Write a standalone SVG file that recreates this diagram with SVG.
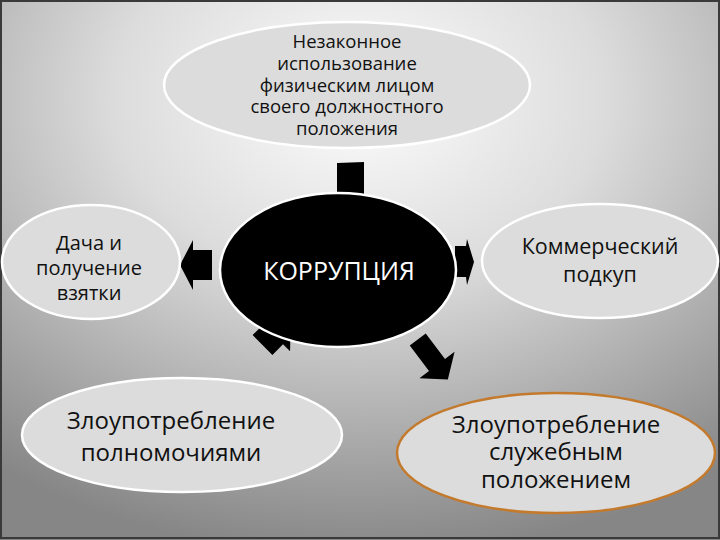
<svg xmlns="http://www.w3.org/2000/svg" width="720" height="540" viewBox="0 0 720 540">
<defs>
<radialGradient id="bg" cx="50%" cy="18%" r="85%" fx="50%" fy="18%">
<stop offset="0" stop-color="#fdfdfd"/>
<stop offset="0.4" stop-color="#dcdcdc"/>
<stop offset="0.65" stop-color="#b8b8b8"/>
<stop offset="1" stop-color="#868686"/>
</radialGradient>
<style>
.t{font-family:"Open Sans","Noto Sans","DejaVu Sans",sans-serif;fill:#111;text-anchor:middle}
.n{fill:#dcdcdc;stroke:#ffffff;stroke-width:2.5}
.arr{fill:#000}
</style>
</defs>
<rect x="0" y="0" width="720" height="540" fill="url(#bg)"/>
<rect x="1" y="1" width="718" height="537" fill="none" stroke="#3a3a3a" stroke-width="2"/>
<g id="connectors">
<polygon class="arr" points="337,163 364,162 364,205 337,205"/>
<polygon class="arr" points="180,265 193,240 193,250 212,250 212,280 193,280 193,290"/>
<polygon class="arr" points="455,246 466,246 467,239 474,262 467,285 466,277 455,277"/>
<polygon class="arr" transform="translate(262.5,345) rotate(-45)" points="0,-14 15,-14 15,-24 40,0 15,24 15,14 0,14"/>
<polygon class="arr" transform="translate(437,365) rotate(53)" points="-32,-10 0,-10 0,-22 18,0 0,22 0,10 -32,10"/>
</g>
<g id="node-top">
<ellipse class="n" cx="347" cy="85" rx="183" ry="63"/>
<text class="t" font-size="18.5"><tspan x="347" y="48">Незаконное</tspan><tspan x="347" y="70">использование</tspan><tspan x="347" y="92">физическим лицом</tspan><tspan x="347" y="113">своего должностного</tspan><tspan x="347" y="135">положения</tspan></text>
</g>
<g id="node-center">
<ellipse cx="338" cy="270" rx="118" ry="77" fill="#000" stroke="#fff" stroke-width="2.5"/>
<text class="t" x="339" y="280" font-size="25" style="fill:#fff">КОРРУПЦИЯ</text>
</g>
<g id="node-left">
<ellipse class="n" cx="91" cy="262" rx="89" ry="57"/>
<text class="t" font-size="20"><tspan x="89" y="250">Дача и</tspan><tspan x="89" y="275">получение</tspan><tspan x="89" y="300">взятки</tspan></text>
</g>
<g id="node-right">
<ellipse class="n" cx="600" cy="261" rx="118" ry="57"/>
<text class="t" font-size="21.5"><tspan x="600" y="254">Коммерческий</tspan><tspan x="600" y="282">подкуп</tspan></text>
</g>
<g id="node-bottom-left">
<ellipse class="n" cx="182" cy="435" rx="160" ry="57"/>
<text class="t" font-size="24"><tspan x="171" y="429">Злоупотребление</tspan><tspan x="171" y="461">полномочиями</tspan></text>
</g>
<g id="node-bottom-right">
<ellipse cx="556" cy="453" rx="159" ry="60" fill="#dcdcdc" stroke="#c47a2c" stroke-width="2.5"/>
<text class="t" font-size="24"><tspan x="556" y="433">Злоупотребление</tspan><tspan x="556" y="460">служебным</tspan><tspan x="556" y="488">положением</tspan></text>
</g>
</svg>
